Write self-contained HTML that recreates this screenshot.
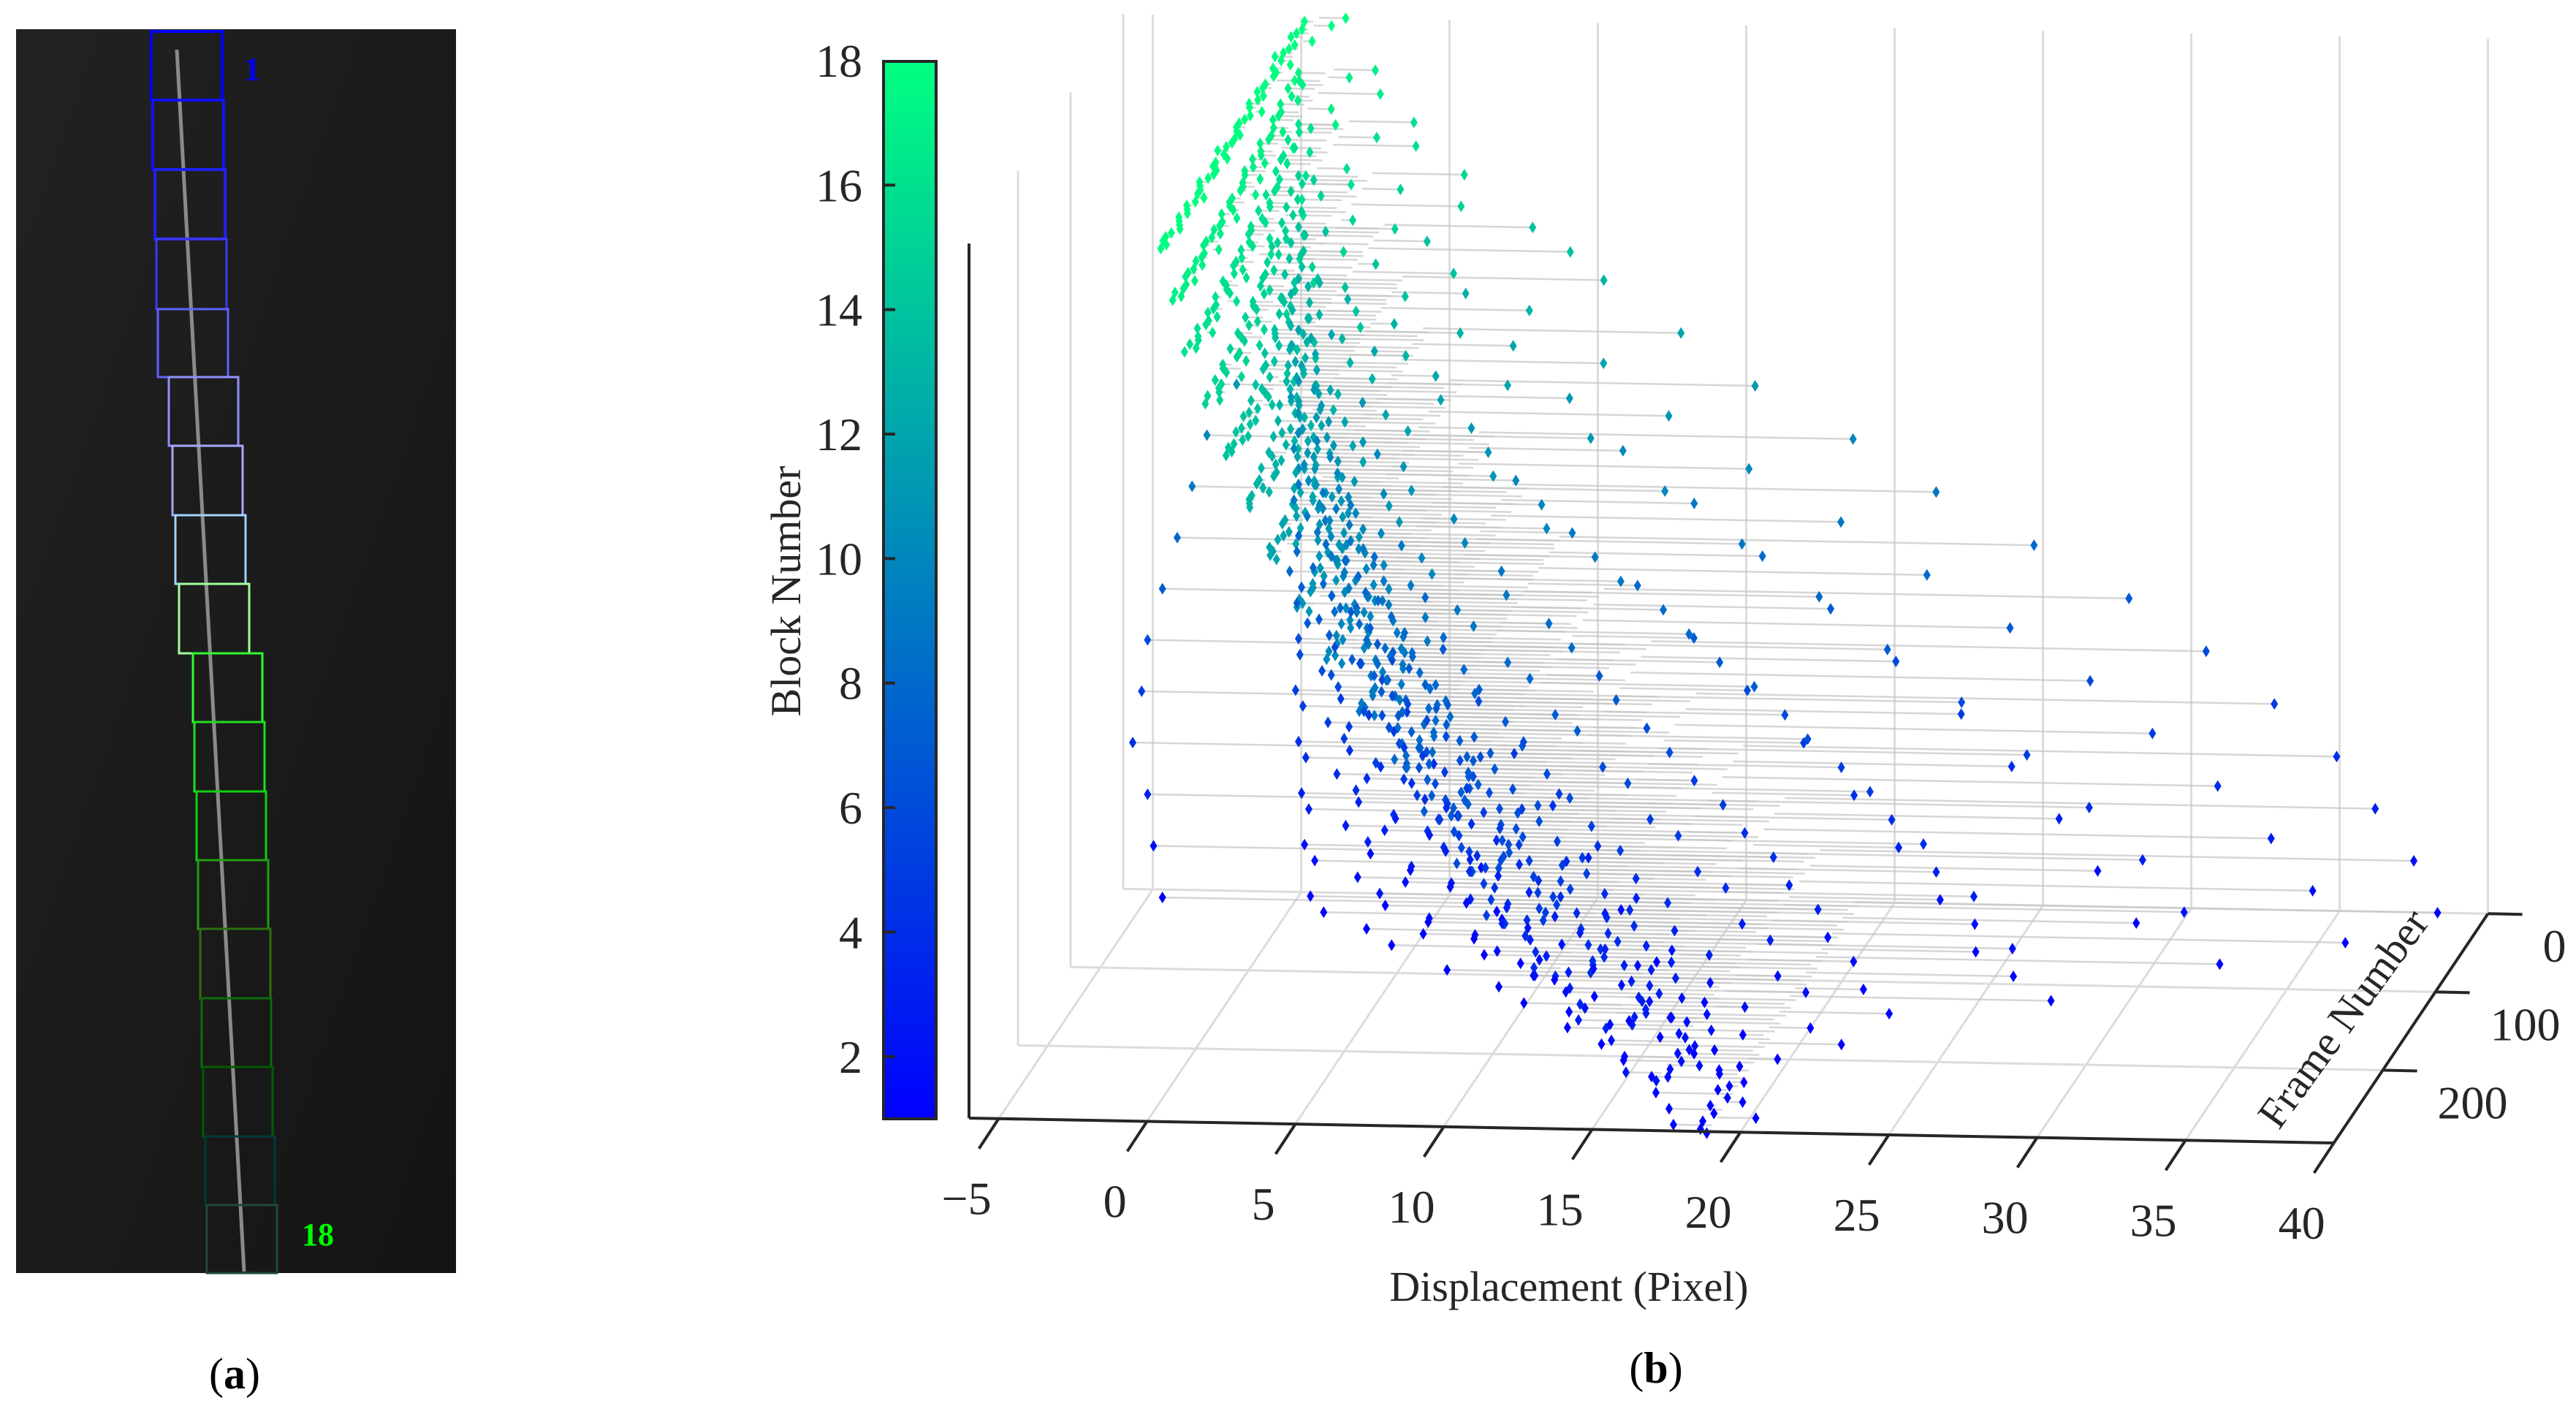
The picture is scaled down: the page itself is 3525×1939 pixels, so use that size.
<!DOCTYPE html>
<html><head><meta charset="utf-8"><style>
html,body{margin:0;padding:0;background:#fff;}
svg{display:block;font-family:"Liberation Serif",serif;}
</style></head><body>
<svg id="fig" width="3525" height="1939" viewBox="0 0 3525 1939" xmlns="http://www.w3.org/2000/svg">
<defs>
<linearGradient id="cbar" x1="0" y1="1" x2="0" y2="0">
<stop offset="0" stop-color="#0000ff"/><stop offset="1" stop-color="#00ff80"/>
</linearGradient>
<linearGradient id="bg" x1="0" y1="0" x2="1" y2="1">
<stop offset="0" stop-color="#222"/><stop offset="1" stop-color="#141414"/>
</linearGradient>
</defs>
<g id="panelA">
<rect x="22" y="40" width="602" height="1702" fill="url(#bg)"/>
<line x1="242" y1="68" x2="334" y2="1740" stroke="#8a8a8a" stroke-width="5"/>
<g id="boxes"></g>
<text x="345" y="110" font-size="46" font-weight="bold" fill="#0000ee" text-anchor="middle">1</text>
<text x="435" y="1704" font-size="44" font-weight="bold" fill="#00ff00" text-anchor="middle">18</text>
</g>
<text x="321" y="1900" font-size="60" text-anchor="middle">(<tspan font-weight="bold">a</tspan>)</text>
<g id="chart"></g>
<rect x="1209" y="84" width="72" height="1447" fill="url(#cbar)" stroke="#262626" stroke-width="4"/>
<g id="cbticks"></g>
<text transform="translate(1095,809) rotate(-90)" font-size="58" text-anchor="middle" fill="#262626">Block Number</text>
<text x="2147" y="1780" font-size="58" text-anchor="middle" fill="#262626">Displacement (Pixel)</text>
<text transform="translate(3222,1405) rotate(-54)" font-size="58" text-anchor="middle" fill="#262626">Frame Number</text>
<text x="2266" y="1892" font-size="60" text-anchor="middle">(<tspan font-weight="bold">b</tspan>)</text>
</svg>
<script>
// ---- panel (a) data ----
const boxTops = [43,137,232,327,423,516,610,705,799,894,988,1083,1177,1271,1366,1460,1555,1649];
const boxLefts = [207,209,212,214,216,231,236,240,245,264,266,269,271,274,276,278,281,283];
const boxRights = [304,306,308,310,312,326,332,336,341,359,362,364,367,370,371,373,376,379];
const boxColors = ["#0000ff","#1010ff","#2020f0","#3a3aff","#6060ff","#9090ff","#a8a8ff","#a0d4ff","#a0ff9a","#30ff30","#20e020","#10d010","#20a010","#2e7010","#0e6a0e","#005c00","#003a38","#1e4a3a"];
// ---- panel (b) chart data ----
const xTicks = [-5,0,5,10,15,20,25,30,35,40];
const frameTicks = [0,100,200];
const cbTicks = [2,4,6,8,10,12,14,16,18];
const blocks = [1,2,3,4,5,6,7,8,9,10,11,12,13,14,15,16,17,18];
// scattered measurements, frames 0..290 step 10
const framesA = [0,10,20,30,40,50,60,70,80,90,100,110,120,130,140,150,160,170,180,190,200,210,220,230,240,250,260,270,280,290];
const a1 = [38.3,-4.5,28.5,7.3,35.9,5.0,23.8,32.2,13.4,25.6,9.6,20.9,27.4,15.9,22.3,15.1,20.0,17.9,21.4,17.3,19.6,18.5,18.0,19.0,18.3,18.8,18.4,18.7,18.5,18.6];
const a2 = [37.5,-4.8,27.2,6.6,34.8,4.4,22.6,31.0,12.2,24.3,8.6,19.7,26.1,14.8,21.1,14.0,18.9,16.8,20.2,16.2,18.5,17.4,16.9,17.9,17.2,17.7,17.3,17.6,17.4,17.5];
const a3 = [36.2,-5.0,25.9,5.8,33.4,3.7,21.2,29.6,11.1,23.0,7.5,18.4,24.8,13.6,19.9,12.9,17.7,15.6,19.0,15.0,17.3,16.2,15.7,16.7,16.0,16.5,16.1,16.4,16.2,16.3];
const a4 = [34.9,-5.5,24.3,5.0,31.6,3.1,19.7,27.8,9.9,21.5,6.4,16.9,23.1,12.3,18.4,11.6,16.2,14.3,17.5,13.6,15.9,14.8,14.2,15.3,14.6,15.1,14.7,15.0,14.8,14.9];
const a5 = [32.8,-5.2,22.6,4.1,29.4,2.5,18.0,25.7,8.6,19.8,5.3,15.2,21.3,11.0,16.7,10.1,14.6,12.8,15.9,12.0,14.3,13.2,12.7,13.7,13.0,13.5,13.1,13.4,13.2,13.3];
const a6 = [30.5,-5.0,20.4,3.6,27.3,1.9,16.1,23.5,7.4,17.9,4.5,13.6,19.2,9.8,14.9,8.7,13.0,11.3,14.2,10.5,12.6,11.7,11.2,12.1,11.5,11.9,11.6,11.8,11.7,11.8];
const a7 = [27.9,-4.5,18.2,2.4,24.6,1.1,14.3,21.0,6.2,15.7,3.8,12.0,17.4,8.3,13.1,7.6,11.4,9.9,12.5,9.2,11.0,10.1,9.7,10.6,9.9,10.4,10.0,10.3,10.1,10.2];
const a8 = [24.7,-4.0,15.9,3.0,21.8,0.5,12.4,18.7,5.6,13.8,2.9,10.3,15.2,7.1,11.6,6.4,9.8,8.5,10.9,7.9,9.4,8.6,8.2,9.1,8.4,8.9,8.6,8.8,8.5,8.7];
const a9 = [21.4,-3.5,13.6,2.2,18.9,1.7,10.2,16.1,4.8,11.5,3.3,8.7,12.9,6.0,9.4,5.4,8.1,7.2,9.0,6.6,7.8,7.1,6.9,7.5,7.0,7.3,7.1,7.2,7.0,7.1];
const a10 = [18.6,-3.0,11.2,3.1,15.8,0.8,8.3,13.5,4.2,9.7,2.5,7.1,10.4,5.0,8.0,4.6,6.9,5.8,7.6,5.2,6.5,6.0,5.7,6.2,5.9,6.1,5.8,6.0,5.9,6.0];
const a11 = [15.3,-2.0,9.4,2.6,13.1,1.4,6.8,11.0,3.5,7.9,2.2,5.4,8.6,4.1,6.2,3.7,5.8,4.6,6.5,4.3,5.5,5.0,4.8,5.3,4.9,5.2,5.0,5.1,4.9,5.0];
const a12 = [12.8,1.2,7.5,3.0,10.9,0.9,5.6,8.2,2.4,6.3,1.7,4.8,3.6,5.9,2.9,4.4,3.8,5.1,3.3,4.6,4.0,3.7,4.3,3.9,4.1,3.8,4.2,4.0,3.9,4.1];
const a13 = [10.2,0.8,5.9,2.1,8.4,1.5,4.2,6.6,2.8,1.3,5.3,3.6,2.2,4.7,3.0,3.9,2.5,4.1,3.3,3.7,2.9,3.5,3.8,3.1,3.4,3.6,3.2,3.5,3.3,3.4];
const a14 = [7.8,1.0,4.6,9.6,0.7,3.4,6.2,1.8,2.9,5.1,1.2,3.8,2.4,4.3,1.6,3.1,2.7,3.5,2.0,2.9,3.3,2.4,2.8,3.1,2.5,2.9,2.6,3.0,2.7,2.8];
const a15 = [5.5,0.6,3.7,1.2,6.1,0.9,2.8,4.4,1.5,0.8,3.2,1.9,2.5,1.1,2.9,1.6,2.2,1.4,2.7,1.9,2.3,1.7,2.5,2.0,2.4,1.8,2.6,2.1,2.2,2.4];
const a16 = [3.8,0.5,2.9,4.4,1.0,0.2,2.6,1.4,3.1,0.7,1.8,0.9,2.2,1.1,0.8,1.6,1.2,2.0,1.0,1.4,1.7,1.2,1.5,1.9,1.3,1.6,1.4,1.8,1.5,1.6];
const a17 = [2.5,1.8,0.4,3.2,0.6,1.9,0.3,2.4,0.8,0.5,1.5,0.6,0.9,0.4,1.1,0.7,1.3,0.6,0.9,1.2,0.8,1.0,0.7,1.3,0.9,1.1,0.8,1.2,1.0,1.1];
const a18 = [1.5,1.2,0.2,0.9,0.3,0.0,0.7,0.4,1.2,0.3,0.5,0.2,0.8,0.4,0.3,0.6,0.5,0.2,0.7,0.4,0.6,0.3,0.5,0.8,0.4,0.6,0.5,0.7,0.4,0.6];
// trunk measurements, frames 5..295 step 10
const framesB = [5,15,25,35,45,55,65,75,85,95,105,115,125,135,145,155,165,175,185,195,205,215,225,235,245,255,265,275,285,295];
const c1 = [0.4,3.1,1.2,4.9,3.0,6.8,4.2,7.5,8.9,6.6,10.4,8.7,12.1,9.9,11.6,13.8,11.9,15.2,13.4,16.7,14.5,17.9,15.8,18.6,16.3,19.4,17.1,20.2,17.6,18.9];
const c2 = [0.2,2.6,0.9,4.3,2.7,6.0,3.8,6.9,8.1,6.0,9.5,7.9,11.0,9.0,10.6,12.6,10.8,13.9,12.2,15.2,13.2,16.3,14.4,16.9,14.8,17.6,15.6,18.3,16.0,17.2];
const c3 = [0.1,2.2,0.7,3.8,2.3,5.3,3.4,6.2,7.2,5.4,8.5,7.1,9.9,8.1,9.5,11.3,9.7,12.5,11.0,13.7,11.9,14.7,13.0,15.3,13.4,15.9,14.1,16.5,14.4,15.5];
const c4 = [0.0,1.9,0.6,3.3,2.0,4.7,3.0,5.5,6.4,4.8,7.6,6.3,8.8,7.2,8.5,10.1,8.6,11.1,9.8,12.2,10.6,13.1,11.6,13.6,11.9,14.2,12.6,14.7,12.9,13.8];
const c5 = [-0.1,1.6,0.5,2.9,1.7,4.1,2.6,4.8,5.6,4.2,6.7,5.5,7.8,6.3,7.5,8.9,7.6,9.8,8.6,10.8,9.3,11.5,10.2,12.0,10.5,12.5,11.1,12.9,11.3,12.1];
const c6 = [0.0,1.4,0.4,2.6,1.5,3.7,2.4,4.4,5.1,3.8,6.1,5.0,7.1,5.7,6.8,8.1,6.9,8.9,7.8,9.8,8.5,10.5,9.3,10.9,9.5,11.3,10.1,11.7,10.3,11.0];
const c7 = [0.1,1.3,0.3,2.3,1.4,3.3,2.1,3.9,4.6,3.4,5.5,4.5,6.4,5.1,6.1,7.3,6.2,8.0,7.0,8.8,7.6,9.4,8.3,9.8,8.6,10.2,9.1,10.5,9.2,9.9];
const c8 = [0.0,1.1,0.3,2.1,1.2,2.9,1.9,3.5,4.1,3.0,4.9,4.0,5.7,4.6,5.4,6.5,5.5,7.1,6.2,7.8,6.8,8.4,7.4,8.7,7.6,9.0,8.1,9.3,8.2,8.8];
const c9 = [0.0,1.0,0.2,1.8,1.0,2.6,1.7,3.0,3.6,2.7,4.3,3.5,5.0,4.0,4.8,5.7,4.8,6.2,5.5,6.9,5.9,7.3,6.5,7.6,6.7,7.9,7.1,8.2,7.2,7.7];
const c10 = [0.0,0.8,0.2,1.6,0.9,2.2,1.4,2.6,3.1,2.3,3.7,3.0,4.3,3.4,4.1,4.9,4.1,5.3,4.7,5.9,5.1,6.3,5.5,6.5,5.7,6.8,6.1,7.0,6.2,6.6];
const c11 = [0.0,0.7,0.1,1.3,0.7,1.9,1.2,2.2,2.6,1.9,3.1,2.5,3.6,2.9,3.4,4.1,3.5,4.5,3.9,4.9,4.2,5.2,4.6,5.4,4.8,5.7,5.1,5.9,5.1,5.5];
const c12 = [0.0,0.6,0.1,1.1,0.6,1.5,1.0,1.8,2.1,1.6,2.5,2.0,2.9,2.3,2.8,3.3,2.8,3.6,3.1,3.9,3.4,4.2,3.7,4.3,3.8,4.5,4.1,4.7,4.1,4.4];
const c13 = [0.0,0.5,0.1,0.9,0.5,1.2,0.8,1.4,1.7,1.3,2.0,1.6,2.3,1.9,2.2,2.6,2.2,2.9,2.5,3.1,2.7,3.3,2.9,3.5,3.0,3.6,3.2,3.8,3.3,3.5];
const c14 = [0.0,0.4,0.1,0.7,0.4,1.0,0.6,1.1,1.3,1.0,1.5,1.3,1.8,1.5,1.7,2.0,1.7,2.2,2.0,2.4,2.1,2.6,2.3,2.7,2.4,2.8,2.5,2.9,2.6,2.7];
const c15 = [0.0,0.3,0.1,0.5,0.3,0.7,0.5,0.8,1.0,0.7,1.1,0.9,1.3,1.1,1.2,1.5,1.3,1.6,1.4,1.7,1.5,1.9,1.6,2.0,1.7,2.0,1.8,2.1,1.9,2.0];
const c16 = [0.0,0.2,0.0,0.4,0.2,0.5,0.3,0.6,0.7,0.5,0.8,0.6,0.9,0.7,0.8,1.0,0.9,1.1,1.0,1.2,1.0,1.3,1.1,1.3,1.2,1.4,1.2,1.4,1.3,1.3];
const c17 = [0.0,0.2,0.0,0.3,0.1,0.3,0.2,0.4,0.5,0.3,0.5,0.4,0.6,0.5,0.6,0.7,0.6,0.7,0.6,0.8,0.7,0.8,0.7,0.9,0.8,0.9,0.8,1.0,0.8,0.9];
const c18 = [0.2,0.3,0.1,0.4,0.2,0.3,0.2,0.4,0.3,0.2,0.4,0.3,0.5,0.3,0.4,0.5,0.4,0.5,0.4,0.6,0.5,0.4,0.5,0.6,0.5,0.4,0.6,0.5,0.4,0.5];
const setA = [a1,a2,a3,a4,a5,a6,a7,a8,a9,a10,a11,a12,a13,a14,a15,a16,a17,a18];
const setB = [c1,c2,c3,c4,c5,c6,c7,c8,c9,c10,c11,c12,c13,c14,c15,c16,c17,c18];

const NS = "http://www.w3.org/2000/svg";
const X_MIN = -6, X_MAX = 40, F_MAX = 293, Z_MIN = 1, Z_MAX = 18;
function px(x, f, z) { return 1326 + (x - X_MIN) * 40.6 + (F_MAX - f) * 0.72; }
function py(x, f, z) { return 1530 + (x - X_MIN) * 0.74 - (F_MAX - f) * 1.071 - (z - Z_MIN) * 70.4; }
function cbY(v) { return 1531 - (v - 1) * 85.18; }
function colorFor(b) {
  const t = (b - 1) / 17;
  return "rgb(0," + Math.round(255 * t) + "," + Math.round(255 - 127 * t) + ")";
}
function mk(tag, attrs, parent) {
  const el = document.createElementNS(NS, tag);
  for (const k in attrs) el.setAttribute(k, attrs[k]);
  parent.appendChild(el);
  return el;
}

// panel (a) boxes
const boxG = document.getElementById("boxes");
for (let i = 0; i < boxTops.length; i++) {
  const bottom = i + 1 < boxTops.length ? boxTops[i + 1] : 1742;
  const r = mk("rect", {x: boxLefts[i], y: boxTops[i], width: boxRights[i] - boxLefts[i], height: bottom - boxTops[i], fill: "none", stroke: boxColors[i], "stroke-width": i < 3 ? 4 : 3}, boxG);
  
  
}

// panel (b)
const chart = document.getElementById("chart");
const grid = mk("g", {stroke: "#dcdcdc", "stroke-width": 3, fill: "none"}, chart);


function seg(p, q, parent) {
  return mk("line", {x1: px(p[0], p[1], p[2]), y1: py(p[0], p[1], p[2]), x2: px(q[0], q[1], q[2]), y2: py(q[0], q[1], q[2])}, parent);
}
[X_MIN].concat(xTicks).forEach(function (x) {
  const l = seg([x, 0, Z_MIN], [x, 0, Z_MAX], grid);
  
  
});
frameTicks.forEach(function (f) {
  const l = seg([X_MIN, f, Z_MIN], [X_MIN, f, Z_MAX], grid);
  
  
});
xTicks.forEach(function (x) {
  const l = seg([x, F_MAX, Z_MIN], [x, 0, Z_MIN], grid);
  
  
});
frameTicks.forEach(function (f) {
  const l = seg([X_MIN, f, Z_MIN], [X_MAX, f, Z_MIN], grid);
  
  
});

const lines = mk("g", {stroke: "#c4c4c4", "stroke-width": 2.5, "stroke-opacity": 0.7}, chart);


const pts = mk("g", {}, chart);


function drawSet(frames, data) {
  for (let bi = blocks.length - 1; bi >= 0; bi--) {
    const b = blocks[bi];
    const vals = data[bi];
    const ref = vals[vals.length - 1];
    const col = colorFor(b);
    for (let fi = 0; fi < frames.length; fi++) {
      const f = frames[fi], x = vals[fi];
      const ln = seg([Math.min(x, ref), f, b], [Math.max(x, ref), f, b], lines);
      
      
      const X = px(x, f, b), Y = py(x, f, b);
      const d = mk("polygon", {points: X + "," + (Y - 8) + " " + (X + 5) + "," + Y + " " + X + "," + (Y + 8) + " " + (X - 5) + "," + Y, fill: col}, pts);
      
      
    }
  }
}
drawSet(framesA, setA);
drawSet(framesB, setB);

const axes = mk("g", {stroke: "#262626", "stroke-width": 4, fill: "none"}, chart);


const za = seg([X_MIN, F_MAX, Z_MIN], [X_MIN, F_MAX, Z_MAX], axes);


const xa = seg([X_MIN, F_MAX, Z_MIN], [X_MAX, F_MAX, Z_MIN], axes);


const fa = seg([X_MAX, F_MAX, Z_MIN], [X_MAX, 0, Z_MIN], axes);


xTicks.forEach(function (x) {
  const X = px(x, F_MAX, Z_MIN), Y = py(x, F_MAX, Z_MIN);
  const t = mk("line", {x1: X, y1: Y, x2: X - 27, y2: Y + 41}, axes);
  
  
  const lb = mk("text", {x: X - 44, y: Y + 131, "font-size": 64, "text-anchor": "middle", fill: "#262626", stroke: "none"}, chart);
  lb.textContent = x < 0 ? "\u2212" + Math.abs(x) : String(x);
  
  
});
frameTicks.forEach(function (f) {
  const X = px(X_MAX, f, Z_MIN), Y = py(X_MAX, f, Z_MIN);
  const t = mk("line", {x1: X, y1: Y, x2: X + 47, y2: Y + 1}, axes);
  
  
  const lb = mk("text", {x: X + 75, y: Y + 66, "font-size": 64, "text-anchor": "start", fill: "#262626", stroke: "none"}, chart);
  lb.textContent = String(f);
  
  
});

const cbt = document.getElementById("cbticks");
cbTicks.forEach(function (v) {
  const Y = cbY(v);
  if (v < 18) {
    const t = mk("line", {x1: 1209, y1: Y, x2: 1225, y2: Y, stroke: "#262626", "stroke-width": 4}, cbt);
    
    
  }
  const lb = mk("text", {x: 1180, y: Y + 22, "font-size": 64, "text-anchor": "end", fill: "#262626"}, cbt);
  lb.textContent = String(v);
  
  
});
</script>
</body></html>
